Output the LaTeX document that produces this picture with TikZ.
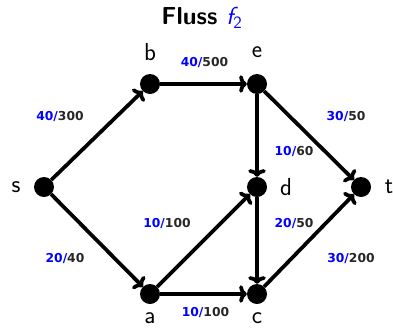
\documentclass[tikz,border=0pt]{standalone}
\usepackage{fontspec}
\newfontfamily\flowfont{DejaVu Sans}
\usepackage{tikz}
\usetikzlibrary{arrows.meta}

\tikzset{
  vertex/.style={circle,fill=black,inner sep=0pt,minimum size=0.6cm},
  vname/.style={font=\sffamily\fontsize{21}{24}\selectfont,inner sep=0pt},
  edge/.style={line width=3.2pt,-{To[length=6.5pt,width=15pt]}},
  flow/.style={font=\flowfont\bfseries\fontsize{10.5}{12}\selectfont,inner sep=0pt},
}

\begin{document}
\begin{tikzpicture}[x=0.03cm,y=-0.03cm]
  \useasboundingbox (0,0) rectangle (393,329);
  \node[font=\sffamily\bfseries\fontsize{21}{24}\selectfont] (title) at (202,18)
    {Fluss \textcolor{blue}{\mdseries\itshape f\textsubscript{\upshape 2}}};
  % Knoten
  \foreach \p/\x/\y/\lx/\ly in {s/44/187/16/187, b/150/84/150/52, e/257/84/257/52,
      d/257/187/286/187, t/361/187/389/187}
  {
    \node[vertex] (\p) at (\x,\y) {};
    \node[vname] (\p-name) at (\lx,\ly) {\p};
  }
  \foreach \p/\x in {a/150, c/257}
  {
    \node[vertex] (\p) at (\x,294) {};
    \node[vname,anchor=base] (\p-name) at (\x,323) {\p};
  }
  % Kanten mit Fluss/Kapazitaet
  \foreach \u/\v/\f/\k/\dx/\dy in {s/b/40/300/-37/-18.5, b/e/40/500/1/-21,
      e/t/30/50/37/-18.5, e/d/10/60/37/16.5, s/a/20/40/-32/17.5,
      a/d/10/100/-36.5/-17.5, d/c/20/50/37/-17.5, c/t/30/200/42/17.5,
      a/c/10/100/2/18}
    \draw[edge] (\u) -- node[flow,shift={(\dx,\dy)}]
      {\textcolor{blue}{\f/}\textcolor{black!85}{\k}} (\v);
\end{tikzpicture}
\end{document}
